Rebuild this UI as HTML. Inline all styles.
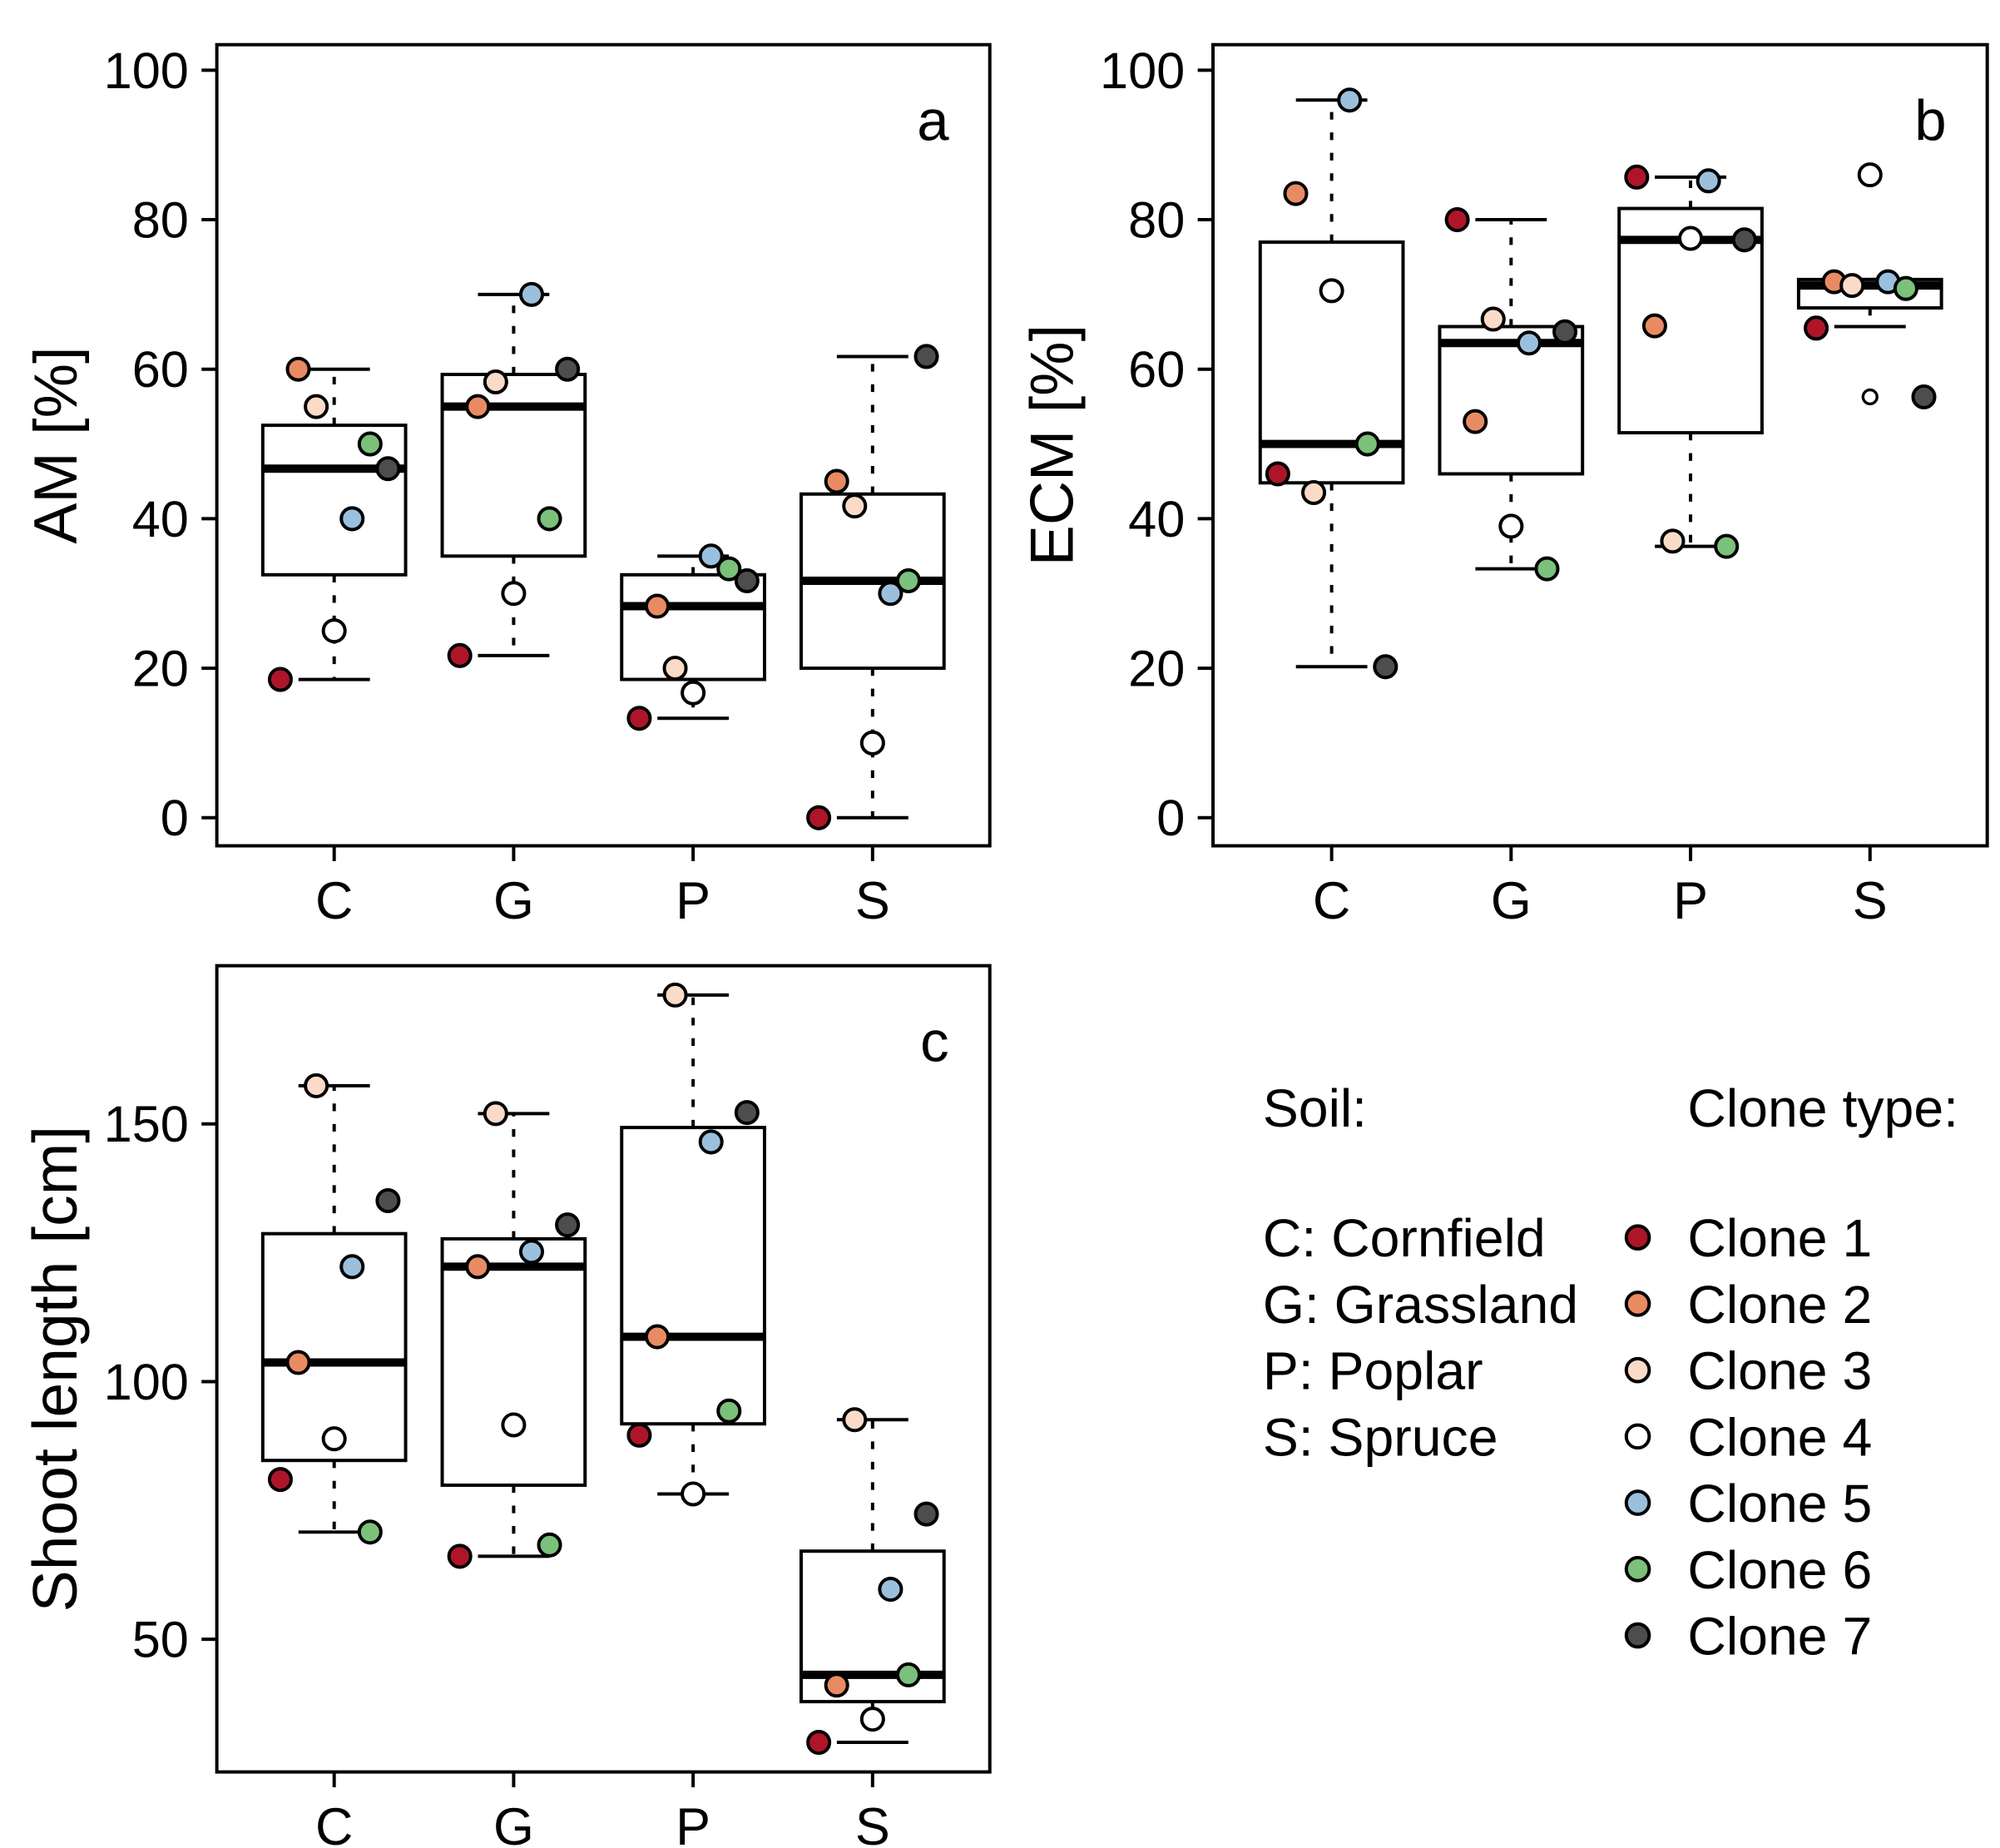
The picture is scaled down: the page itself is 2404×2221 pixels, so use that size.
<!DOCTYPE html>
<html><head><meta charset="utf-8"><style>html,body{margin:0;padding:0;background:#fff}svg{display:block}text{font-family:"Liberation Sans",Arial,sans-serif;fill:#000}</style></head>
<body>
<svg id="chart" xmlns="http://www.w3.org/2000/svg" width="2404" height="2221" viewBox="0 0 1568 1448.6">
<rect width="1568" height="1449" fill="#fff"/>
</svg>
<script>
const categories = ["C","G","P","S"];
const cloneNames = ["Clone 1","Clone 2","Clone 3","Clone 4","Clone 5","Clone 6","Clone 7"];
const cloneColors = ["#ae1528","#e98b62","#f9dbc7","#ffffff","#9ac0dd","#7bc07b","#4d4d4d"];
const jitter = [-0.3,-0.2,-0.1,0,0.1,0.2,0.3];
// box stats: [whiskerLow, q1, median, q3, whiskerHigh]
const amBox = [[18.5,32.5,46.7,52.5,60],[21.7,35,55,59.3,70],[13.3,18.5,28.3,32.5,35],[0,20,31.7,43.3,61.7]];
const amPts = [[18.5,60,55,25,40,50,46.7],[21.7,55,58.3,30,70,40,60],[13.3,28.3,20,16.7,35,33.3,31.7],[0,45,41.7,10,30,31.7,61.7]];
const ecmBox = [[20.2,44.8,50,77,96],[33.3,46,63.5,65.7,80],[36.3,51.5,77.3,81.5,85.7],[65.7,68.2,71.2,72,72]];
const ecmPts = [[46,83.5,43.5,70.5,96,50,20.2],[80,53,66.7,39,63.5,33.3,65],[85.7,65.8,37,77.5,85.2,36.3,77.3],[65.5,71.7,71.2,86,71.7,70.8,56.3]];
const ecmOut = [[],[],[],[86,56.3]];
const shootBox = [[70.8,84.7,103.7,128.7,157.4],[66.1,79.9,122.3,127.7,152],[78.2,91.8,108.7,149.3,175],[30,37.9,43.1,67.1,92.6]];
const shootPts = [[81,103.7,157.4,88.9,122.3,70.8,135.1],[66.1,122.3,152,91.6,125.2,68.3,130.4],[89.6,108.7,175,78.2,146.5,94.3,152.2],[30,41.1,92.6,34.5,59.7,43.1,74.3]];
const amTicks = [0,20,40,60,80,100];
const shootTicks = [50,100,150];
const soilLabels = ["C: Cornfield","G: Grassland","P: Poplar","S: Spruce"];

const svg = document.getElementById('chart');
const NS = 'http://www.w3.org/2000/svg';
function mk(tag, attrs, parent){const e=document.createElementNS(NS,tag);for(const k in attrs)e.setAttribute(k,attrs[k]);(parent||svg).appendChild(e);return e;}

function panel(p){
  const g = mk('g',{});
  
  
  const x = i => p.cx0 + i*p.dx;
  const xj = (i,j) => x(i) + jitter[j]*p.dx;
  const y = v => p.yA + (v - p.vA)*(p.yB-p.yA)/(p.vB-p.vA);
  const frame = mk('rect',{x:p.x0,y:p.y0,width:p.x1-p.x0,height:p.y1-p.y0,fill:'none',stroke:'#000','stroke-width':2.6},g);
  
  
  p.ticks.forEach(t=>{
    mk('line',{x1:p.x0-12,x2:p.x0,y1:y(t),y2:y(t),stroke:'#000','stroke-width':2.6},g);
    const tl=mk('text',{x:p.x0-22,y:y(t)+14,'text-anchor':'end','font-size':40},g);
    tl.textContent=t;
    
    
  });
  categories.forEach((c,i)=>{
    mk('line',{x1:x(i),x2:x(i),y1:p.y1,y2:p.y1+12,stroke:'#000','stroke-width':2.6},g);
    const tl=mk('text',{x:x(i),y:p.y1+57,'text-anchor':'middle','font-size':41},g);
    tl.textContent=c;
    
    
    const b=p.box[i];
    const bg=mk('g',{},g);
    
    
    mk('line',{x1:x(i),x2:x(i),y1:y(b[3]),y2:y(b[4]),stroke:'#000','stroke-width':2.6,'stroke-dasharray':'6,10'},bg);
    mk('line',{x1:x(i),x2:x(i),y1:y(b[1]),y2:y(b[0]),stroke:'#000','stroke-width':2.6,'stroke-dasharray':'6,10'},bg);
    mk('line',{x1:x(i)-28,x2:x(i)+28,y1:y(b[4]),y2:y(b[4]),stroke:'#000','stroke-width':2.6},bg);
    mk('line',{x1:x(i)-28,x2:x(i)+28,y1:y(b[0]),y2:y(b[0]),stroke:'#000','stroke-width':2.6},bg);
    mk('rect',{x:x(i)-56,y:y(b[3]),width:112,height:y(b[1])-y(b[3]),fill:'#fff',stroke:'#000','stroke-width':2.6},bg);
    mk('line',{x1:x(i)-56,x2:x(i)+56,y1:y(b[2]),y2:y(b[2]),stroke:'#000','stroke-width':6.5},bg);
    (p.out[i]||[]).forEach(v=>{
      const o=mk('circle',{cx:x(i),cy:y(v),r:5.5,fill:'none',stroke:'#000','stroke-width':2.2},bg);
      
      
    });
    p.pts[i].forEach((v,j)=>{
      const pt=mk('circle',{cx:xj(i,j),cy:y(v),r:8.5,fill:cloneColors[j],stroke:'#000','stroke-width':2.6},g);
      
      
    });
  });
  const lt=mk('text',{x:p.x1-32,y:p.y0+75,'text-anchor':'end','font-size':45},g);
  lt.textContent=p.letter;
  
  
  const cy=(p.y0+p.y1)/2+p.tOff;
  const at=mk('text',{x:0,y:0,'text-anchor':'middle','font-size':p.tSize,transform:`translate(${p.x0-110},${cy}) rotate(-90)`},g);
  at.textContent=p.title;
  
  
}
panel({name:'panel-a-am',x0:170,x1:776,y0:35,y1:663,cx0:262,dx:140.7,yA:641,vA:0,yB:55,vB:100,ticks:amTicks,box:amBox,pts:amPts,out:[],letter:'a',title:'AM [%]',tSize:48,tOff:0});
panel({name:'panel-b-ecm',x0:951,x1:1558,y0:35,y1:663,cx0:1044,dx:140.7,yA:641,vA:0,yB:55,vB:100,ticks:amTicks,box:ecmBox,pts:ecmPts,out:ecmOut,letter:'b',title:'ECM [%]',tSize:48,tOff:0});
panel({name:'panel-c-shoot',x0:170,x1:776,y0:757,y1:1389,cx0:262,dx:140.7,yA:1083,vA:100,yB:881,vB:150,ticks:shootTicks,box:shootBox,pts:shootPts,out:[],letter:'c',title:'Shoot length [cm]',tSize:49,tOff:0});

const lg=mk('g',{});


const s1=mk('text',{x:990,y:883,'font-size':42},lg);
s1.textContent='Soil:';
const s2=mk('text',{x:1323,y:883,'font-size':42},lg);
s2.textContent='Clone type:';
soilLabels.forEach((s,k)=>{
  const t=mk('text',{x:990,y:985+52*k,'font-size':42},lg);
  t.textContent=s;
  
  
});
cloneNames.forEach((s,k)=>{
  const c=mk('circle',{cx:1284,cy:970+52*k,r:9,fill:cloneColors[k],stroke:'#000','stroke-width':2.6},lg);
  
  
  const t=mk('text',{x:1323,y:985+52*k,'font-size':42},lg);
  t.textContent=s;
  
  
});
</script>
</body></html>
